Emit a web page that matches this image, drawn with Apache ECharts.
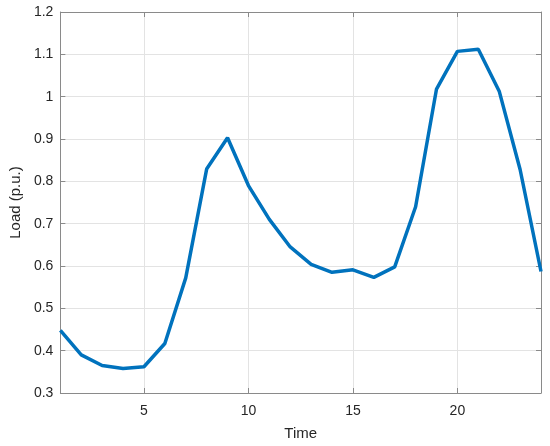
<!DOCTYPE html>
<html>
<head>
<meta charset="utf-8">
<script src="https://cdn.jsdelivr.net/npm/echarts@6/dist/echarts.min.js"></script>
<style>
  html, body { margin: 0; padding: 0; background: #fff; }
  #chart { width: 550px; height: 446px; }
</style>
</head>
<body>
<div id="chart"></div>
<script>
// data
const hours = [1, 2, 3, 4, 5, 6, 7, 8, 9, 10, 11, 12, 13, 14, 15, 16, 17, 18, 19, 20, 21, 22, 23, 24];
const load = [0.448, 0.39, 0.365, 0.358, 0.362, 0.417, 0.572, 0.829, 0.903, 0.79, 0.71, 0.645,
  0.604, 0.585, 0.591, 0.573, 0.598, 0.74, 1.018, 1.107, 1.112, 1.013, 0.828, 0.587];
const xTicks = [5, 10, 15, 20];

const COLORS = {
  line: '#0072BD',
  axis: '#8a8a8a',
  grid: '#e3e3e3',
  text: '#262626'
};
const FONT = 'Liberation Sans, Arial, sans-serif';

const chart = echarts.init(document.getElementById('chart'));

const xBase = {
  type: 'value',
  min: 1,
  max: 24,
  axisLine: { show: true, lineStyle: { color: COLORS.axis, width: 1 } },
  axisTick: { show: true, inside: true, length: 5, customValues: xTicks, lineStyle: { color: COLORS.axis } },
  splitLine: { show: false }
};
const yBase = {
  type: 'value',
  min: 0.3,
  max: 1.2,
  interval: 0.1,
  axisLine: { show: true, lineStyle: { color: COLORS.axis, width: 1 } },
  axisTick: { show: true, inside: true, length: 5, lineStyle: { color: COLORS.axis } },
  splitLine: { show: false }
};

chart.setOption({
  animation: false,
  backgroundColor: '#fff',
  grid: { left: 56, right: 9, top: 12, bottom: 51 },
  xAxis: [
    {
      ...xBase,
      position: 'bottom',
      name: 'Time',
      nameLocation: 'middle',
      nameGap: 33,
      nameTextStyle: { color: COLORS.text, fontSize: 15, fontFamily: FONT },
      axisLabel: { color: COLORS.text, fontSize: 14, fontFamily: FONT, margin: 11, customValues: xTicks },
      splitLine: { show: true, lineStyle: { color: COLORS.grid, width: 1 } }
    },
    { ...xBase, position: 'top', axisLabel: { show: false } }
  ],
  yAxis: [
    {
      ...yBase,
      position: 'left',
      name: 'Load (p.u.)',
      nameLocation: 'middle',
      nameGap: 33,
      nameTextStyle: { color: COLORS.text, fontSize: 15, fontFamily: FONT },
      axisLabel: {
        color: COLORS.text, fontSize: 14, fontFamily: FONT, margin: 7,
        formatter: v => String(parseFloat(v.toFixed(1)))
      },
      splitLine: { show: true, lineStyle: { color: COLORS.grid, width: 1 } }
    },
    { ...yBase, position: 'right', axisLabel: { show: false } }
  ],
  series: [
    {
      type: 'line',
      data: hours.map((h, i) => [h, load[i]]),
      showSymbol: false,
      lineStyle: { color: COLORS.line, width: 3.5 },
      clip: true
    }
  ]
});
</script>
</body>
</html>
